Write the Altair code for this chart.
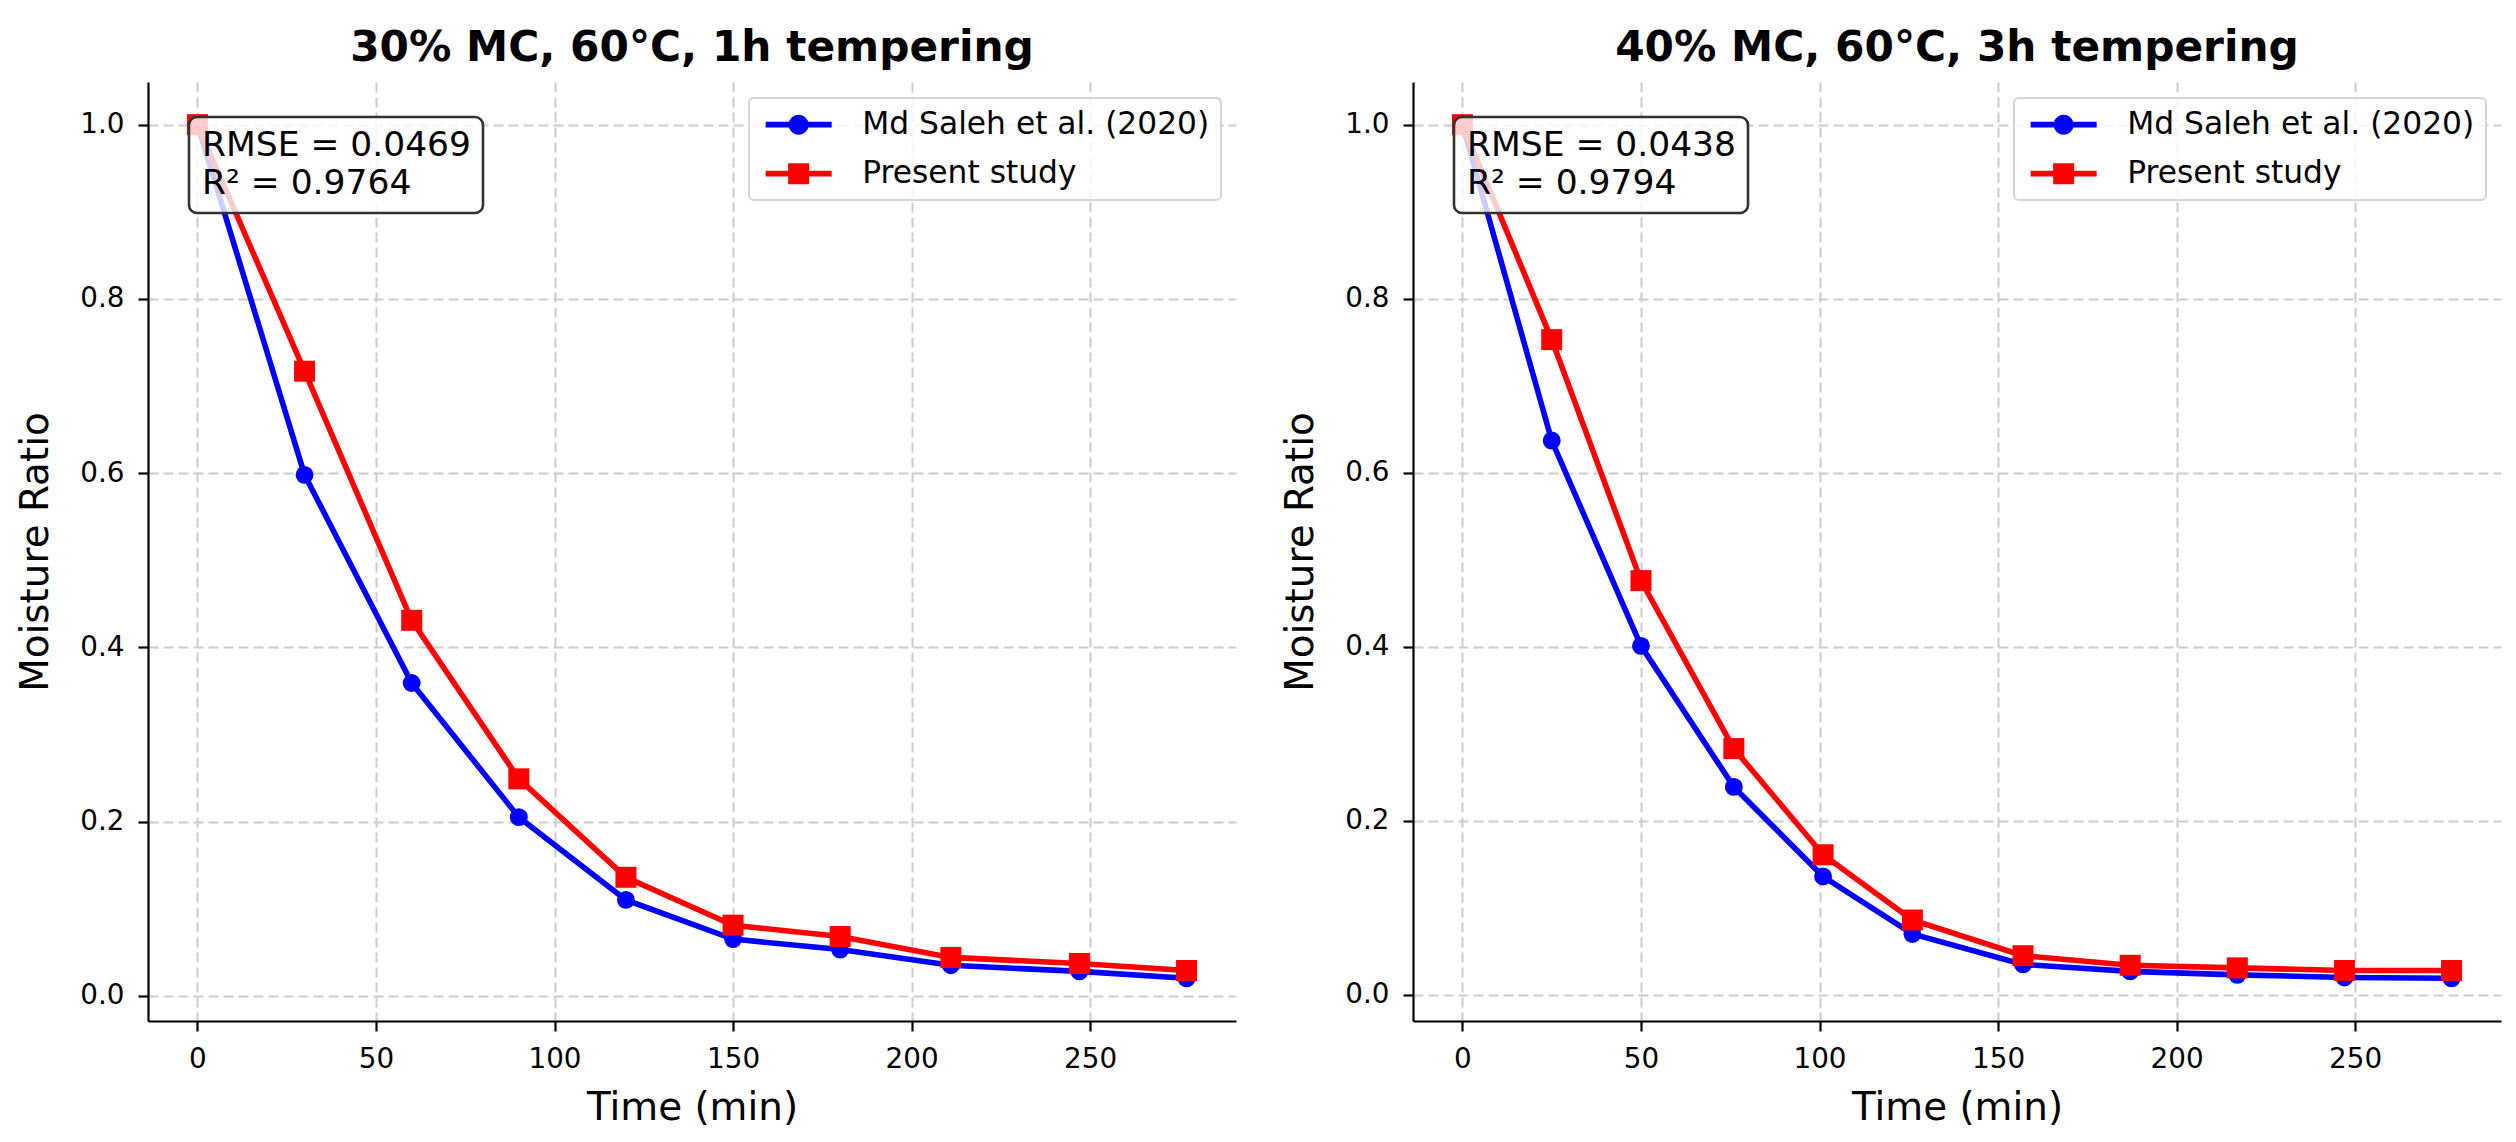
import altair as alt
import pandas as pd

FONT = "DejaVu Sans"

series_names = ["Md Saleh et al. (2020)", "Present study"]
series_colors = ["blue", "red"]

# Panel A: 30% MC, 60°C, 1h tempering
time_a = [0, 30, 60, 90, 120, 150, 180, 211, 247, 277]
saleh_a = [1.0, 0.598, 0.359, 0.205, 0.110, 0.065, 0.053, 0.035, 0.028, 0.020]
present_a = [1.0, 0.717, 0.431, 0.249, 0.136, 0.081, 0.068, 0.044, 0.037, 0.029]

# Panel B: 40% MC, 60°C, 3h tempering
time_b = [0, 25, 50, 76, 101, 126, 157, 187, 217, 247, 277]
saleh_b = [1.0, 0.637, 0.401, 0.239, 0.136, 0.070, 0.035, 0.027, 0.023, 0.020, 0.019]
present_b = [1.0, 0.753, 0.476, 0.283, 0.161, 0.086, 0.045, 0.034, 0.031, 0.028, 0.028]

titles = ["30% MC, 60°C, 1h tempering", "40% MC, 60°C, 3h tempering"]
stats = [["RMSE = 0.0469", "R² = 0.9764"], ["RMSE = 0.0438", "R² = 0.9794"]]
x_ticks = [0, 50, 100, 150, 200, 250]
y_ticks = [0.0, 0.2, 0.4, 0.6, 0.8, 1.0]

W, H = 1088, 939

# legend symbols: line handle with a marker in the middle (unit = sqrt(size)/2 px)
LINE = "M-1,-0.28H5.6V0.28H-1Z"
CIRCLE_SYM = LINE + "M1.3,0A1,1 0 1,1 3.3,0A1,1 0 1,1 1.3,0Z"
SQUARE_SYM = LINE + "M1.25,-1.05H3.35V1.05H1.25Z"


def panel(times, saleh, present, title, stat):
    n = len(times)
    df = pd.DataFrame({
        "time": times + times,
        "mr": saleh + present,
        "series": [series_names[0]] * n + [series_names[1]] * n,
    })
    tmin, tmax = min(times), max(times)
    vals = saleh + present
    vmin, vmax = min(vals), max(vals)
    xd = [tmin - 0.05 * (tmax - tmin), tmax + 0.05 * (tmax - tmin)]
    yd = [vmin - 0.05 * (vmax - vmin), vmax + 0.05 * (vmax - vmin)]

    x = alt.X("time:Q", scale=alt.Scale(domain=xd, nice=False, zero=False),
              axis=alt.Axis(title="Time (min)", values=x_ticks, format="d"))
    y = alt.Y("mr:Q", scale=alt.Scale(domain=yd, nice=False, zero=False),
              axis=alt.Axis(title="Moisture Ratio", values=y_ticks, format=".1f"))

    base = alt.Chart(df)
    blue = base.transform_filter(alt.datum.series == series_names[0])
    red = base.transform_filter(alt.datum.series == series_names[1])

    l1 = blue.mark_line(color="blue", strokeWidth=5.6).encode(x=x, y=y)
    p1 = blue.mark_point(shape="circle", filled=True, size=320, color="blue",
                         opacity=1).encode(x=x, y=y)
    l2 = red.mark_line(color="red", strokeWidth=5.6).encode(x=x, y=y)
    p2 = red.mark_point(shape="square", filled=True, size=441, color="red",
                        opacity=1).encode(x=x, y=y)

    one = alt.Data(values=[{}])
    box = alt.Chart(one).mark_rect(
        fill="white", fillOpacity=0.8, stroke="#333333", strokeWidth=2.6,
        cornerRadius=8
    ).encode(x=alt.value(41), x2=alt.value(335), y=alt.value(35), y2=alt.value(131))
    txt = alt.Chart(one).mark_text(
        align="left", baseline="top", font=FONT, fontSize=34.5, lineHeight=38,
        color="black"
    ).encode(x=alt.value(54), y=alt.value(47), text=alt.value(stat))

    legend = alt.Legend(
        title=None, orient="none", legendX=601, legendY=16,
        labelFont=FONT, labelFontSize=31.3, labelColor="black", labelLimit=800,
        labelOffset=71, symbolSize=400, symbolStrokeWidth=0,
    )
    leg = base.transform_filter("false").mark_point(
        filled=True, opacity=1, size=400
    ).encode(
        x=x, y=y,
        color=alt.Color("series:N", scale=alt.Scale(domain=series_names, range=series_colors),
                        legend=legend),
        shape=alt.Shape("series:N", scale=alt.Scale(domain=series_names,
                                                    range=[CIRCLE_SYM, SQUARE_SYM]),
                        legend=legend),
    )

    return alt.layer(l1, p1, l2, p2, box, txt, leg).properties(
        width=W, height=H,
        title=alt.TitleParams(title, font=FONT, fontSize=42.3, fontWeight="bold",
                              color="black", anchor="middle", offset=12),
    )


left = panel(time_a, saleh_a, present_a, titles[0], stats[0])
right = panel(time_b, saleh_b, present_b, titles[1], stats[1])

chart = alt.hconcat(left, right, spacing=44).resolve_scale(
    x="independent", y="independent", color="independent", shape="independent"
).resolve_legend(
    color="independent", shape="independent"
).properties(
    padding={"left": 8, "top": 18, "right": 5, "bottom": 0}
).configure_view(
    stroke="transparent"
).configure_legend(
    padding=11, rowPadding=17, fillColor="rgba(255,255,255,0.8)",
    strokeColor="#d4d4d4", strokeWidth=2, cornerRadius=5, labelLimit=800
).configure_axis(
    domainColor="black", domainWidth=2.2, tickColor="black", tickWidth=2.2,
    tickSize=10, labelFont=FONT, labelFontSize=27.8, labelColor="black",
    labelPadding=14, titleFont=FONT, titleFontSize=38.9, titleFontWeight="normal",
    titleColor="black", grid=True, gridColor="#cccccc", gridDash=[10, 5],
    gridWidth=2
).configure_axisX(
    titlePadding=16
).configure_axisY(
    titlePadding=24
)

chart.save("out.html", embed_options={"renderer": "svg", "actions": False})
